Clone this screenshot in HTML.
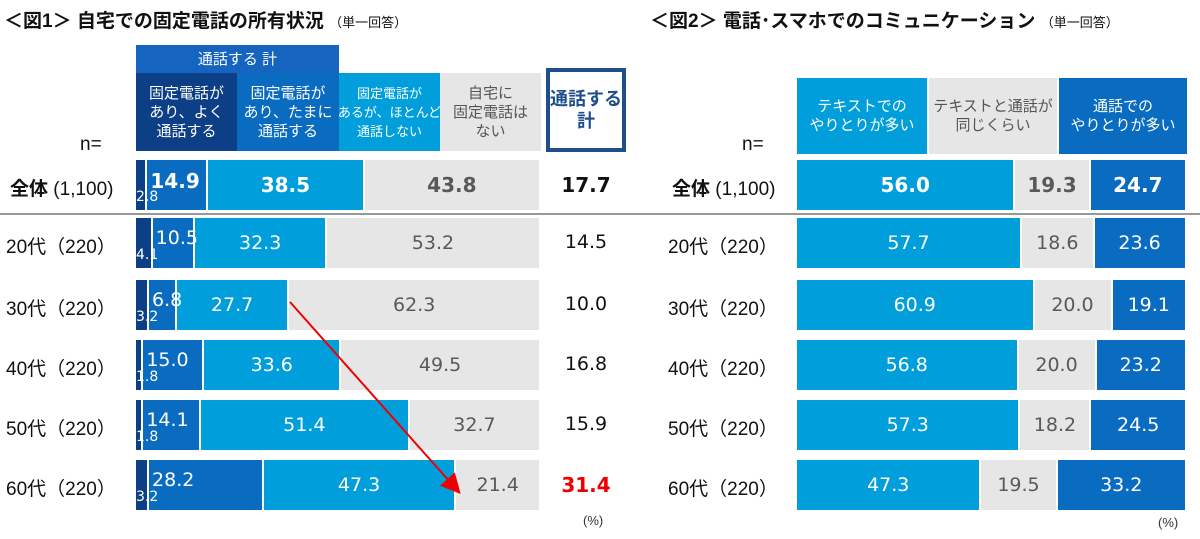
<!DOCTYPE html><html><head><meta charset="utf-8"><style>
body{margin:0;width:1200px;height:539px;background:#fff;position:relative;overflow:hidden;font-family:"Liberation Sans","Noto Sans CJK JP",sans-serif;}
.a{position:absolute;box-sizing:border-box}
.h{display:flex;align-items:center;justify-content:center;text-align:center;color:#fff;font-size:15px;line-height:19px;white-space:nowrap}
.s{position:absolute;display:flex;align-items:center;justify-content:center;color:#fff;font-size:19px;height:100%;top:0;box-sizing:border-box;border-right:2px solid #fff;white-space:nowrap;font-family:"DejaVu Sans",sans-serif}
.l{font-size:19px;color:#111}
.t{font-size:19px;color:#111;text-align:center;width:80px;font-family:"DejaVu Sans",sans-serif}
</style></head><body>
<div class="a" style="left:4px;top:6px;font-size:19px;font-weight:bold;color:#111">＜図1＞ 自宅での固定電話の所有状況 <span style="font-size:13px;font-weight:normal">（単一回答）</span></div>
<div class="a" style="left:650px;top:6px;font-size:19px;font-weight:bold;color:#111">＜図2＞ 電話･スマホでのコミュニケーション <span style="font-size:13px;font-weight:normal">（単一回答）</span></div>

<div class="a h" style="left:136px;top:45px;width:203px;height:28px;background:#1565c0">通話する 計</div>
<div class="a h" style="left:136px;top:73px;width:101px;height:78px;background:#0d3f86">固定電話が<br>あり、よく<br>通話する</div>
<div class="a h" style="left:237px;top:73px;width:102px;height:78px;background:#0a6cc0">固定電話が<br>あり、たまに<br>通話する</div>
<div class="a h" style="left:339px;top:73px;width:101px;height:78px;background:#009fdb;font-size:13px">固定電話が<br>あるが、ほとんど<br>通話しない</div>
<div class="a h" style="left:440px;top:73px;width:101px;height:78px;background:#e6e6e6;color:#555">自宅に<br>固定電話は<br>ない</div>
<div class="a h" style="left:546px;top:68px;width:80px;height:84px;border:4px solid #1f4e8c;color:#1f4e8c;font-weight:bold;font-size:18px;line-height:22px">通話する<br>計</div>
<div class="a l" style="left:80px;top:134px">n=</div>

<div class="a h" style="left:797px;top:78px;width:130px;height:76px;background:#009fdb">テキストでの<br>やりとりが多い</div>
<div class="a h" style="left:929px;top:78px;width:128px;height:76px;background:#e6e6e6;color:#555">テキストと通話が<br>同じくらい</div>
<div class="a h" style="left:1059px;top:78px;width:128px;height:76px;background:#0a6cc0">通話での<br>やりとりが多い</div>
<div class="a l" style="left:742px;top:134px">n=</div>

<div class="a" style="left:0;top:213px;width:1200px;height:2px;background:#999"></div>

<div id="c"></div>
<svg class="a" style="left:0;top:0" width="1200" height="539"><defs><marker id="m" markerWidth="10" markerHeight="10" refX="8" refY="5" orient="auto"><path d="M0,0L10,5L0,10z" fill="#e00"/></marker></defs><line x1="290" y1="302" x2="458" y2="491" stroke="#e00" stroke-width="2" marker-end="url(#m)"/></svg>
<div class="a" style="left:583px;top:513px;font-size:13px;color:#333">(%)</div>
<div class="a" style="left:1158px;top:515px;font-size:13px;color:#333">(%)</div>
<script>
var rows=[["全体",160,2.8,14.9,38.5,43.8,"17.7",56.0,19.3,24.7],["20代",218,4.1,10.5,32.3,53.2,"14.5",57.7,18.6,23.6],["30代",280,3.2,6.8,27.7,62.3,"10.0",60.9,20.0,19.1],["40代",340,1.8,15.0,33.6,49.5,"16.8",56.8,20.0,23.2],["50代",400,1.8,14.1,51.4,32.7,"15.9",57.3,18.2,24.5],["60代",460,3.2,28.2,47.3,21.4,"31.4",47.3,19.5,33.2]];
var h="";
rows.forEach(function(r,i){var y=r[1],H=50,b=i==0?"font-weight:bold;font-size:20px;":"";
var lab=i==0?'<b>全体</b> (1,100)':r[0]+'（220）';
h+='<div class="a l" style="left:'+(i==0?10:6)+'px;top:'+(y+14)+'px">'+lab+'</div>';
h+='<div class="a l" style="left:'+(i==0?672:668)+'px;top:'+(y+14)+'px">'+lab+'</div>';
var W=407,cols=["#0d3f86","#0a6cc0","#009fdb","#e6e6e6"];
h+='<div class="a" style="left:136px;top:'+y+'px;width:405px;height:'+H+'px">';
var cx=0;for(var k=0;k<4;k++){var w=r[2+k]*W/100;if(k==3)w=405-cx;var txt=k==0?"":r[2+k].toFixed(1);var c=k==3?"#595959":"#fff";
h+='<div class="s" style="left:'+cx+'px;width:'+w+'px;background:'+cols[k]+';color:'+c+';'+b+(k==1?'justify-content:flex-start;padding-left:3px;align-items:flex-start;padding-top:9px;z-index:2;':'')+'">'+txt+'</div>';cx+=w;}
h+='<div style="position:absolute;left:0;top:29px;font-size:14px;color:#fff;z-index:3;font-family:DejaVu Sans,sans-serif">'+r[2].toFixed(1)+'</div></div>';
h+='<div class="a t" style="left:546px;top:'+(y+13)+'px;'+(i==0||i==5?'font-weight:bold;font-size:20px;':'')+(i==5?'color:#e00':'')+'">'+r[6]+'</div>';
var W2=390,cols2=["#009fdb","#e6e6e6","#0a6cc0"];cx=0;
h+='<div class="a" style="left:797px;top:'+y+'px;width:390px;height:'+H+'px">';
for(k=0;k<3;k++){var w2=r[7+k]*W2/100;h+='<div class="s" style="left:'+cx+'px;width:'+w2+'px;background:'+cols2[k]+';color:'+(k==1?"#595959":"#fff")+';'+b+'">'+r[7+k].toFixed(1)+'</div>';cx+=w2;}
h+='</div>';});
document.getElementById("c").outerHTML=h;
</script>
</body></html>
